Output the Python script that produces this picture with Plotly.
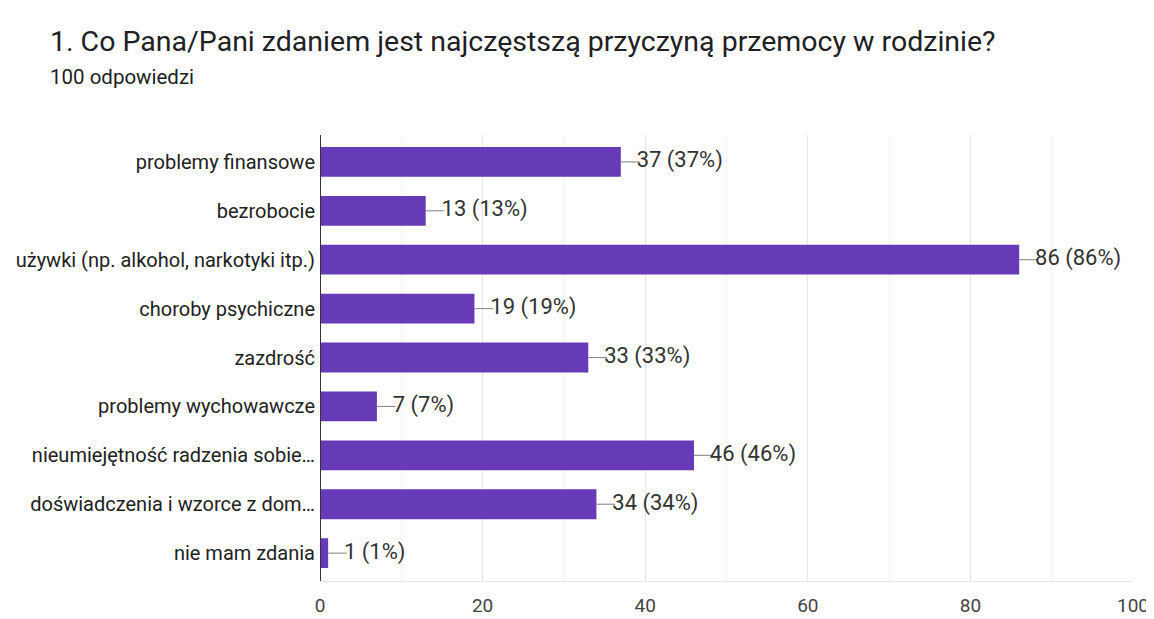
import plotly.graph_objects as go

categories = [
    "problemy finansowe",
    "bezrobocie",
    "używki (np. alkohol, narkotyki itp.)",
    "choroby psychiczne",
    "zazdrość",
    "problemy wychowawcze",
    "nieumiejętność radzenia sobie…",
    "doświadczenia i wzorce z dom…",
    "nie mam zdania",
]
counts = [37, 13, 86, 19, 33, 7, 46, 34, 1]
total = 100
title = "1. Co Pana/Pani zdaniem jest najczęstszą przyczyną przemocy w rodzinie?"
subtitle = "100 odpowiedzi"

FONT = "Roboto, Arial, sans-serif"
BAR = "#673ab7"
lead = 2.3
text_off = 1.95

labels = [f"{c} ({round(c * 100 / total)}%)" for c in counts]

lx, ly = [], []
for c, cat in zip(counts, categories):
    lx += [c, c + lead, None]
    ly += [cat, cat, None]

# page body has an 8px margin, so the figure is sized/offset accordingly
OFF = 8
W, H = 1154 - OFF, 619 - OFF
L, R, T, B = 320 - OFF, 1154 - 1133, 135 - OFF, 619 - 581
pw, ph = W - L - R, H - T - B

fig = go.Figure()
fig.add_trace(go.Bar(
    x=counts, y=categories, orientation="h",
    marker=dict(color=BAR, line=dict(width=0)),
    hoverinfo="skip",
))
fig.add_trace(go.Scatter(
    x=lx, y=ly, mode="lines",
    line=dict(color="#8a8a8a", width=1.1),
    hoverinfo="skip",
))
fig.add_trace(go.Scatter(
    x=[c + text_off for c in counts], y=categories, mode="text",
    text=labels, textposition="middle right",
    textfont=dict(family=FONT, size=22, color="#333333"),
    hoverinfo="skip",
))

fig.update_layout(
    width=W, height=H,
    margin=dict(l=L, r=R, t=T, b=B, autoexpand=False),
    plot_bgcolor="white", paper_bgcolor="white",
    showlegend=False,
    bargap=0.39,
    font=dict(family=FONT, color="#333333"),
    annotations=[
        dict(text=title, xref="paper", yref="paper", x=(48 - OFF - L) / pw,
             y=1 + (T - (42 - OFF)) / ph,
             xanchor="left", yanchor="middle", showarrow=False,
             font=dict(family=FONT, size=28.5, color="#202124")),
        dict(text=subtitle, xref="paper", yref="paper", x=(48 - OFF - L) / pw,
             y=1 + (T - (77 - OFF)) / ph,
             xanchor="left", yanchor="middle", showarrow=False,
             font=dict(family=FONT, size=20.5, color="#202124")),
    ],
)
fig.update_xaxes(
    range=[0, 100], tickvals=[0, 20, 40, 60, 80, 100], automargin=False,
    showgrid=True, gridcolor="#e6e6e6", gridwidth=1,
    minor=dict(tickvals=[10, 30, 50, 70, 90], showgrid=True, gridcolor="#f2f2f2", gridwidth=1),
    zeroline=False, showline=True, linecolor="#e6e6e6",
    tickfont=dict(family=FONT, size=19, color="#444444"),
    ticks="", ticklabelstandoff=7,
)
fig.update_yaxes(
    categoryorder="array", categoryarray=categories[::-1], automargin=False,
    range=[-0.57, len(categories) - 1 + 0.55],
    showgrid=False, zeroline=False,
    showline=False,
    tickfont=dict(family=FONT, size=20, color="#222222"),
    ticks="", ticklabelstandoff=4,
)
fig.add_vline(x=0, line=dict(color="#333333", width=2), layer="above")

fig.write_html("out.html")
